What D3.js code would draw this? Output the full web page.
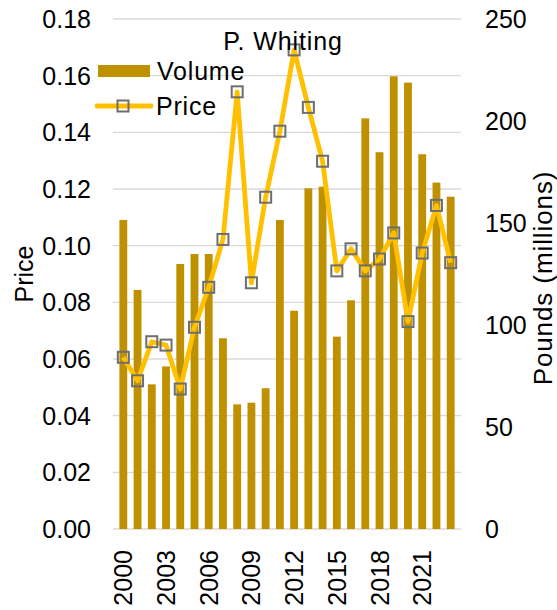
<!DOCTYPE html>
<html>
<head>
<meta charset="utf-8">
<script src="https://cdn.jsdelivr.net/npm/d3@7"></script>
<style>
  body { margin: 0; background: #fff; }
  text { font-family: "Liberation Sans", Arial, sans-serif; fill: #000; }
</style>
</head>
<body>
<svg id="chart" width="557" height="610"></svg>
<script>
// years on the x axis
const years = d3.range(2000, 2024);
// landed volume, pounds (millions) - right axis
const volume = [151.5, 117.2, 70.9, 79.7, 129.9, 134.8, 134.8, 93.5, 61.1, 61.9, 69.0, 151.5,
                107.0, 167.0, 167.8, 94.3, 112.1, 201.3, 184.7, 221.9, 218.8, 183.7, 169.8, 162.9];
// price per pound - left axis
const price = [0.0606, 0.0523, 0.0661, 0.0649, 0.0494, 0.0712, 0.0853, 0.1022, 0.1543, 0.0869,
               0.1171, 0.1404, 0.1691, 0.1488, 0.1298, 0.0911, 0.0989, 0.0911, 0.0953, 0.1045,
               0.0732, 0.0974, 0.1142, 0.0940];
const priceTicks = d3.range(0, 0.1801, 0.02);
const volumeTicks = [0, 50, 100, 150, 200, 250];
const yearTicks = [2000, 2003, 2006, 2009, 2012, 2015, 2018, 2021];

const svg = d3.select("#chart");
const margin = { left: 113, right: 96, top: 19, bottom: 81 };
const width = 557 - margin.left - margin.right;
const height = 610 - margin.top - margin.bottom;

const x = d3.scaleBand().domain(years).range([margin.left, margin.left + width]).padding(0.45);
const yPrice = d3.scaleLinear().domain([0, 0.18]).range([margin.top + height, margin.top]);
const yVol = d3.scaleLinear().domain([0, 250]).range([margin.top + height, margin.top]);

// gridlines
svg.append("g")
  .selectAll("line")
  .data(priceTicks)
  .join("line")
  .attr("x1", margin.left)
  .attr("x2", margin.left + width)
  .attr("y1", d => yPrice(d))
  .attr("y2", d => yPrice(d))
  .attr("stroke", "#d9d9d9")
  .attr("stroke-width", 1.3);

// bars
svg.append("g")
  .selectAll("rect")
  .data(years)
  .join("rect")
  .attr("x", d => x(d))
  .attr("width", x.bandwidth())
  .attr("y", (d, i) => yVol(volume[i]))
  .attr("height", (d, i) => yVol(0) - yVol(volume[i]))
  .attr("fill", "#BF9000");

// price line
const line = d3.line()
  .x((d, i) => x(years[i]) + x.bandwidth() / 2)
  .y(d => yPrice(d));

svg.append("path")
  .datum(price)
  .attr("d", line)
  .attr("fill", "none")
  .attr("stroke", "#FFC000")
  .attr("stroke-width", 4.8)
  .attr("stroke-linejoin", "round");

const m = 11;
svg.append("g")
  .selectAll("rect")
  .data(price)
  .join("rect")
  .attr("x", (d, i) => x(years[i]) + x.bandwidth() / 2 - m / 2)
  .attr("y", d => yPrice(d) - m / 2)
  .attr("width", m)
  .attr("height", m)
  .attr("fill", "none")
  .attr("stroke", "#6e6e6e")
  .attr("stroke-width", 2);

// left axis labels
const fs = 25;
svg.append("g")
  .selectAll("text")
  .data(priceTicks)
  .join("text")
  .attr("x", 91)
  .attr("y", d => yPrice(d))
  .attr("dy", "0.36em")
  .attr("text-anchor", "end")
  .attr("font-size", fs)
  .text(d => d3.format(".2f")(d));

// right axis labels
svg.append("g")
  .selectAll("text")
  .data(volumeTicks)
  .join("text")
  .attr("x", 485)
  .attr("y", d => yVol(d))
  .attr("dy", "0.36em")
  .attr("font-size", fs)
  .text(d => d);

// x labels
svg.append("g")
  .selectAll("text")
  .data(yearTicks)
  .join("text")
  .attr("transform", d => `translate(${x(d) + x.bandwidth() / 2},550) rotate(-90)`)
  .attr("dy", "0.36em")
  .attr("text-anchor", "end")
  .attr("font-size", fs)
  .text(d => d);

// axis titles
svg.append("text")
  .attr("transform", `translate(33,${margin.top + height / 2}) rotate(-90)`)
  .attr("text-anchor", "middle")
  .attr("font-size", fs)
  .text("Price");

svg.append("text")
  .attr("transform", `translate(552,278) rotate(-90)`)
  .attr("text-anchor", "middle")
  .attr("font-size", 26)
  .attr("letter-spacing", 0.9)
  .text("Pounds (millions)");

// title
svg.append("text")
  .attr("x", 283)
  .attr("y", 50)
  .attr("text-anchor", "middle")
  .attr("font-size", fs)
  .attr("letter-spacing", 0.9)
  .text("P. Whiting");

// legend
const legend = svg.append("g");
legend.append("rect")
  .attr("x", 98).attr("y", 65).attr("width", 52).attr("height", 12)
  .attr("fill", "#BF9000");
legend.append("text")
  .attr("x", 157).attr("y", 80).attr("font-size", fs)
  .attr("letter-spacing", 0.8).text("Volume");
legend.append("line")
  .attr("x1", 97).attr("x2", 151).attr("y1", 106).attr("y2", 106)
  .attr("stroke", "#FFC000").attr("stroke-width", 4.8).attr("stroke-linecap", "round");
legend.append("rect")
  .attr("x", 123 - m / 2).attr("y", 106 - m / 2).attr("width", m).attr("height", m)
  .attr("fill", "none").attr("stroke", "#6e6e6e").attr("stroke-width", 2);
legend.append("text")
  .attr("x", 156).attr("y", 115).attr("font-size", fs)
  .attr("letter-spacing", 0.8).text("Price");
</script>
</body>
</html>
